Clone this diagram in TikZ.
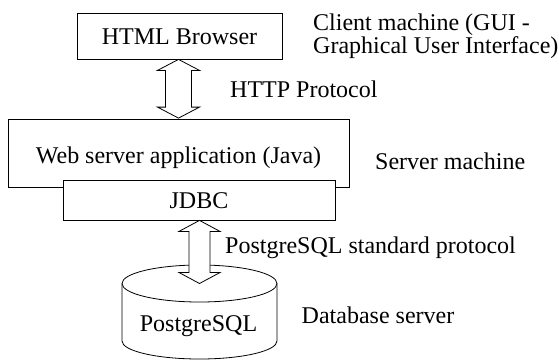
\documentclass[tikz,border=0pt]{standalone}
\usepackage{fontspec}
\setmainfont{Liberation Serif}
\usetikzlibrary{calc}
\begin{document}
\begin{tikzpicture}[x=1pt,y=-1pt,
  every node/.style={font=\fontsize{24pt}{28pt}\selectfont, inner sep=0pt},
  box/.style={draw, line width=0.8pt, fill=white, text height=16pt, text depth=0pt},
  lbl/.style={anchor=base west},
  fat/.style={draw, line width=0.8pt, fill=white, line join=miter}]
\useasboundingbox (0,0) rectangle (559,360);

% boxes
\node[box, minimum width=205pt, minimum height=46pt] (html) at (179.5,36) {HTML Browser};
\node[box, minimum width=341pt, minimum height=68pt, text height=20pt] (web) at (178.5,153) {Web server application (Java)};
\node[box, minimum width=272pt, minimum height=40pt] (jdbc) at (199,200) {JDBC};

% database cylinder
\draw[line width=0.8pt, fill=white]
  (122,283.5) -- (122,341) arc[start angle=180, end angle=0, x radius=77.5, y radius=18]
  -- (277,283.5) arc[start angle=0, end angle=-180, x radius=77.5, y radius=18.5] -- cycle;
\draw[line width=0.8pt] (122,283.5) arc[start angle=180, end angle=0, x radius=77.5, y radius=18.5];
\coordinate (dbtop) at (199.5,283.5);
\node[anchor=base] (db) at (198.5,331.7) {PostgreSQL};

% upper double arrow (html <-> web)
\draw[fat] let \p1=($(html.south)+(-1,0)$), \p2=($(web.north)+(0,-0.5)$) in
  (\x1,\y1) -- ({\x1+21pt},{\y1-11pt}) -- ({\x1+13pt},{\y1-11pt})
  -- ({\x1+13pt},{\y2+11pt}) -- ({\x1+21pt},{\y2+11pt}) -- (\x1,\y2)
  -- ({\x1-21pt},{\y2+11pt}) -- ({\x1-13pt},{\y2+11pt})
  -- ({\x1-13pt},{\y1-11pt}) -- ({\x1-21pt},{\y1-11pt}) -- cycle;

% lower double arrow (jdbc <-> db)
\draw[fat] let \p1=($(jdbc.south)+(0.5,0)$), \p2=(dbtop) in
  (\x1,\y1) -- ({\x1+20.5pt},{\y1-11pt}) -- ({\x1+10.5pt},{\y1-11pt})
  -- ({\x1+10.5pt},{\y2+11pt}) -- ({\x1+20.5pt},{\y2+11pt}) -- (\x1,\y2)
  -- ({\x1-20.5pt},{\y2+11pt}) -- ({\x1-10.5pt},{\y2+11pt})
  -- ({\x1-10.5pt},{\y1-11pt}) -- ({\x1-20.5pt},{\y1-11pt}) -- cycle;

% labels
\node[lbl] (client1) at (313,30.5) {Client machine (GUI -};
\node[lbl] (client2) at (313,53.5) {Graphical User Interface)};
\node[lbl] (http) at (230,97) {HTTP Protocol};
\node[lbl] (server) at (375,169.5) {Server machine};
\node[lbl] (pgproto) at (225,253) {PostgreSQL standard protocol};
\node[lbl] (dbserver) at (301.5,323.5) {Database server};
\end{tikzpicture}
\end{document}
